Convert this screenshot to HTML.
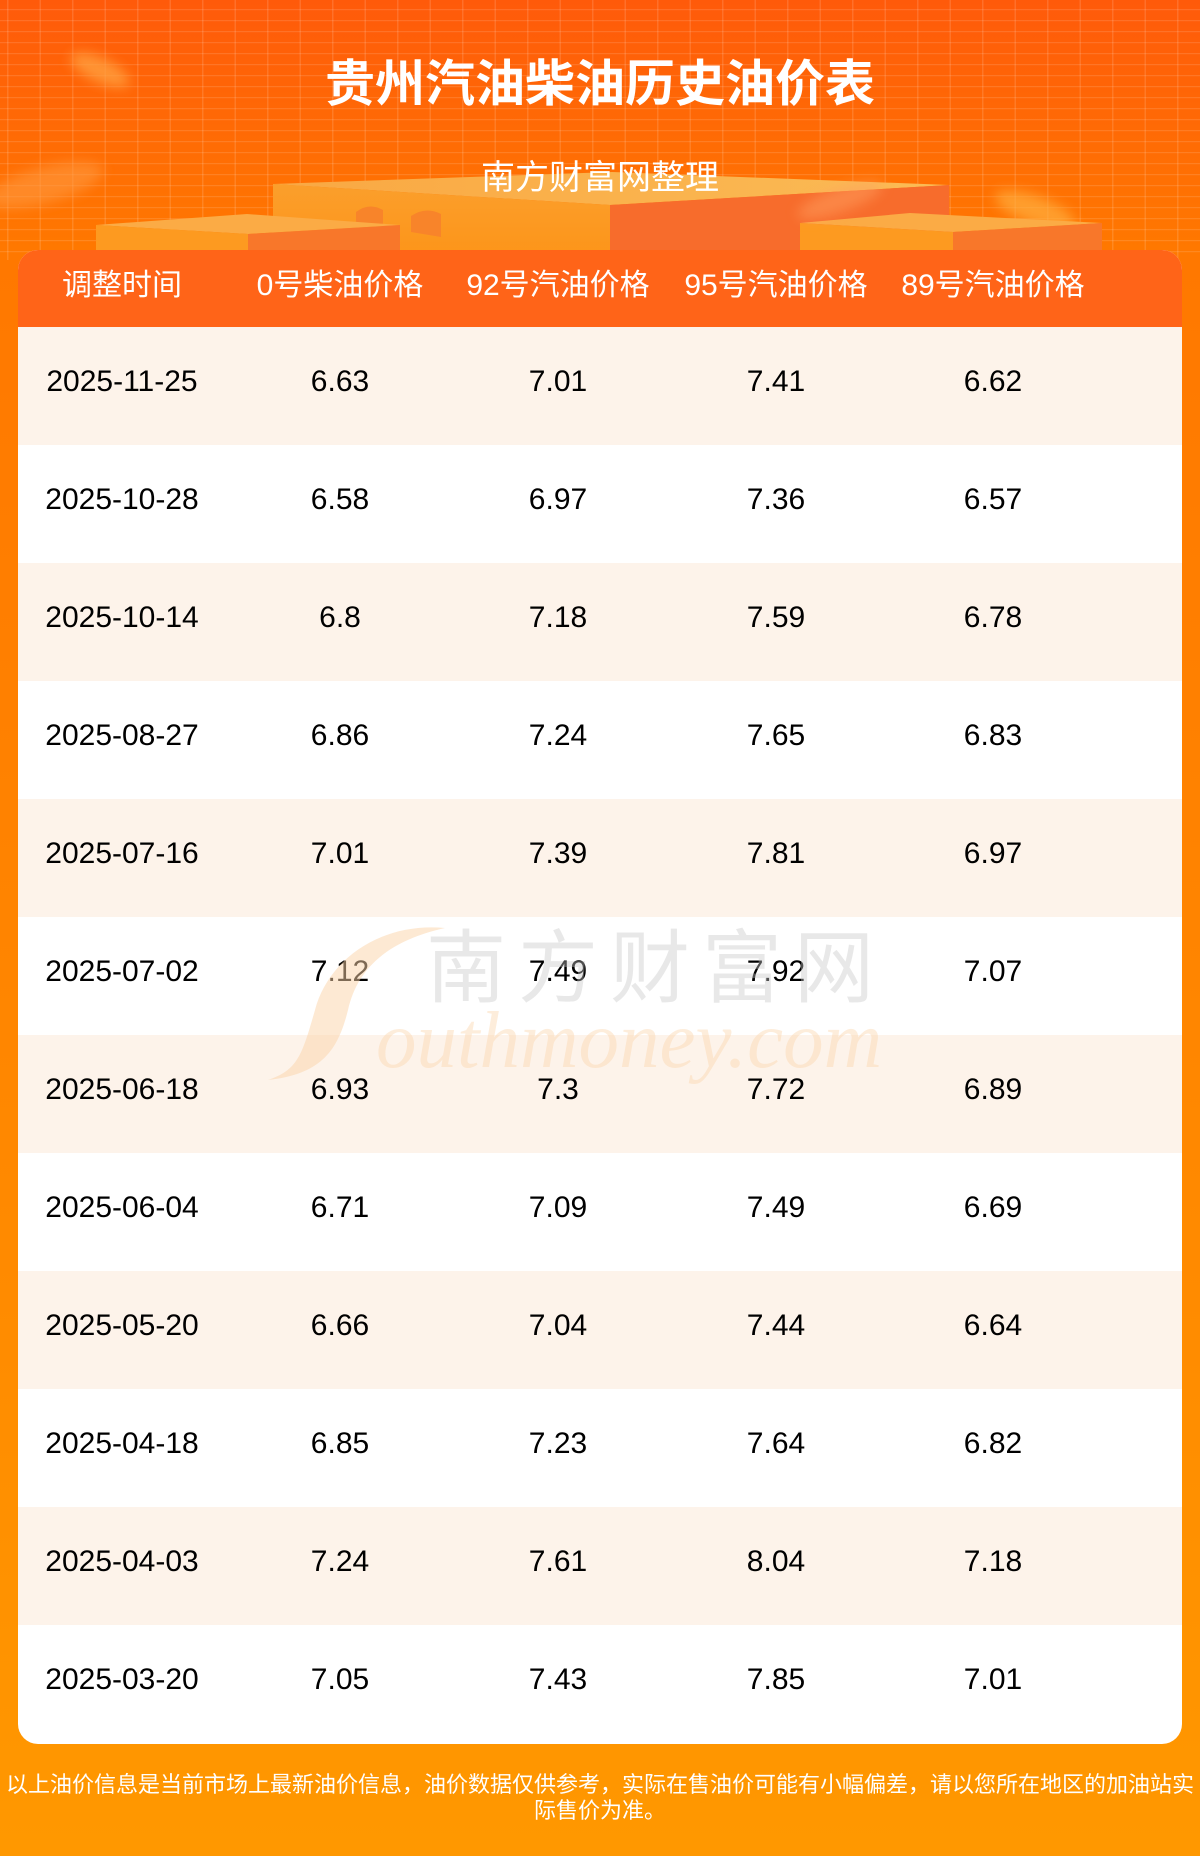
<!DOCTYPE html>
<html>
<head>
<meta charset="utf-8">
<style>
  html,body{margin:0;padding:0;}
  body{width:1200px;height:1856px;position:relative;overflow:hidden;
    background:linear-gradient(180deg,#ff5a0a 0px,#ff6a05 130px,#ff7800 250px,#ff8000 700px,#ff8b00 1300px,#ff9800 1856px);
    font-family:"Liberation Sans","Noto Sans CJK SC",sans-serif;}
  .abs{position:absolute;}
  .title{left:0;width:1200px;top:52px;height:64px;line-height:64px;text-align:center;color:#fff;font-size:50px;font-weight:bold;}
  .sub{left:0;width:1200px;top:156px;height:44px;line-height:44px;text-align:center;color:#fff;font-size:34px;}
  .card{left:18px;top:250px;width:1164px;height:1494px;border-radius:20px;overflow:hidden;background:#fff;}
  .hdr{position:absolute;left:0;top:0;width:1164px;height:77px;background:#ff6418;}
  .row{position:absolute;left:0;width:1164px;height:118px;}
  .alt{background:#fdf3ea;}
  .c{position:absolute;width:200px;text-align:center;white-space:nowrap;}
  .hdr .c{top:2px;height:68px;line-height:68px;color:#fff;font-size:30px;}
  .row .c{top:0;height:110px;line-height:110px;color:#000;font-size:30px;}
  .c1{left:4px}.c2{left:222px}.c3{left:440px}.c4{left:658px}.c5{left:875px}
  .foot{left:0;width:1200px;top:1772px;text-align:center;color:#fff;font-size:22px;line-height:26px;white-space:nowrap;}
</style>
</head>
<body>
<svg class="abs" style="left:0;top:0" width="1200" height="260" viewBox="0 0 1200 260">
  <defs>
    <pattern id="gv" width="32.5" height="260" patternUnits="userSpaceOnUse" x="7">
      <rect x="0" y="0" width="1.5" height="260" fill="#ffffff" opacity="0.13"/>
    </pattern>
    <pattern id="gh" width="1200" height="11" patternUnits="userSpaceOnUse" y="9">
      <rect x="0" y="0" width="1200" height="1.2" fill="#ffffff" opacity="0.12"/>
    </pattern>
    <filter id="bl" x="-50%" y="-50%" width="200%" height="200%"><feGaussianBlur stdDeviation="6"/></filter>
    <linearGradient id="lf" x1="0" y1="0" x2="0" y2="1">
      <stop offset="0" stop-color="#fb9f2c"/><stop offset="1" stop-color="#fd9418"/>
    </linearGradient>
    <linearGradient id="tp" x1="0" y1="0" x2="1" y2="0">
      <stop offset="0" stop-color="#f9a843"/><stop offset="1" stop-color="#fbbb55"/>
    </linearGradient>
  </defs>
  <rect width="1200" height="260" fill="url(#gv)"/>
  <rect width="1200" height="260" fill="url(#gh)"/>
  <ellipse cx="100" cy="70" rx="32" ry="12" transform="rotate(25 100 70)" fill="#ffa040" opacity="0.8" filter="url(#bl)"/>
  <ellipse cx="45" cy="185" rx="60" ry="18" transform="rotate(-15 45 185)" fill="#ff9a40" opacity="0.6" filter="url(#bl)"/>
  <ellipse cx="1035" cy="210" rx="42" ry="14" transform="rotate(20 1035 210)" fill="#ffb040" opacity="0.7" filter="url(#bl)"/>
  <polygon points="273,184 612,172 949,185 610,205" fill="url(#tp)"/>
  <polygon points="273,184 610,205 610,260 273,260" fill="url(#lf)"/>
  <polygon points="610,205 949,185 949,260 610,260" fill="#f76c2c"/>
  <path d="M356,223 L356,212 Q369,202 383,210 L383,225 Z" fill="#f8842a"/>
  <path d="M411,232 L411,216 Q426,206 441,214 L441,237 Z" fill="#f8842a"/>
  <polygon points="96,225 247,214 400,225 248,234" fill="#fbab45"/>
  <polygon points="96,225 248,234 248,260 96,260" fill="#fd9a20"/>
  <polygon points="248,234 400,225 400,260 248,260" fill="#f8772a"/>
  <polygon points="800,223 910,213 1102,223 953,232" fill="#fbab45"/>
  <polygon points="800,223 953,232 953,260 800,260" fill="#fd9a20"/>
  <polygon points="953,232 1102,223 1102,260 953,260" fill="#f8772a"/>
  <ellipse cx="840" cy="200" rx="45" ry="12" transform="rotate(-20 840 200)" fill="#ffa060" opacity="0.5" filter="url(#bl)"/>
</svg>

<div class="abs title">贵州汽油柴油历史油价表</div>
<div class="abs sub">南方财富网整理</div>

<div class="abs card">
  <div class="hdr">
    <div class="c c1">调整时间</div>
    <div class="c c2">0号柴油价格</div>
    <div class="c c3">92号汽油价格</div>
    <div class="c c4">95号汽油价格</div>
    <div class="c c5">89号汽油价格</div>
  </div>
  <div class="row alt" style="top:77px"><div class="c c1">2025-11-25</div><div class="c c2">6.63</div><div class="c c3">7.01</div><div class="c c4">7.41</div><div class="c c5">6.62</div></div>
  <div class="row" style="top:195px"><div class="c c1">2025-10-28</div><div class="c c2">6.58</div><div class="c c3">6.97</div><div class="c c4">7.36</div><div class="c c5">6.57</div></div>
  <div class="row alt" style="top:313px"><div class="c c1">2025-10-14</div><div class="c c2">6.8</div><div class="c c3">7.18</div><div class="c c4">7.59</div><div class="c c5">6.78</div></div>
  <div class="row" style="top:431px"><div class="c c1">2025-08-27</div><div class="c c2">6.86</div><div class="c c3">7.24</div><div class="c c4">7.65</div><div class="c c5">6.83</div></div>
  <div class="row alt" style="top:549px"><div class="c c1">2025-07-16</div><div class="c c2">7.01</div><div class="c c3">7.39</div><div class="c c4">7.81</div><div class="c c5">6.97</div></div>
  <div class="row" style="top:667px"><div class="c c1">2025-07-02</div><div class="c c2">7.12</div><div class="c c3">7.49</div><div class="c c4">7.92</div><div class="c c5">7.07</div></div>
  <div class="row alt" style="top:785px"><div class="c c1">2025-06-18</div><div class="c c2">6.93</div><div class="c c3">7.3</div><div class="c c4">7.72</div><div class="c c5">6.89</div></div>
  <div class="row" style="top:903px"><div class="c c1">2025-06-04</div><div class="c c2">6.71</div><div class="c c3">7.09</div><div class="c c4">7.49</div><div class="c c5">6.69</div></div>
  <div class="row alt" style="top:1021px"><div class="c c1">2025-05-20</div><div class="c c2">6.66</div><div class="c c3">7.04</div><div class="c c4">7.44</div><div class="c c5">6.64</div></div>
  <div class="row" style="top:1139px"><div class="c c1">2025-04-18</div><div class="c c2">6.85</div><div class="c c3">7.23</div><div class="c c4">7.64</div><div class="c c5">6.82</div></div>
  <div class="row alt" style="top:1257px"><div class="c c1">2025-04-03</div><div class="c c2">7.24</div><div class="c c3">7.61</div><div class="c c4">8.04</div><div class="c c5">7.18</div></div>
  <div class="row" style="top:1375px"><div class="c c1">2025-03-20</div><div class="c c2">7.05</div><div class="c c3">7.43</div><div class="c c4">7.85</div><div class="c c5">7.01</div></div>
</div>

<svg class="abs" style="left:0;top:0;pointer-events:none" width="1200" height="1856" viewBox="0 0 1200 1856">
  <path d="M445,928 C380,922 328,960 315,1010 C302,1055 298,1070 268,1080 C322,1074 338,1050 348,1010 C358,965 392,940 445,928 Z" fill="#fbd3a8" opacity="0.5"/>
  <text x="656" y="996" text-anchor="middle" font-family="Noto Sans CJK SC, sans-serif" font-weight="normal" font-size="80" letter-spacing="12" fill="#c8c8c8" opacity="0.4">南方财富网</text>
  <text x="376" y="1067" font-family="Liberation Serif, serif" font-style="italic" font-size="81" fill="#fbd3a8" opacity="0.4">outhmoney.com</text>
</svg>

<div class="abs foot">以上油价信息是当前市场上最新油价信息，油价数据仅供参考，实际在售油价可能有小幅偏差，请以您所在地区的加油站实<br>际售价为准。</div>
</body>
</html>
